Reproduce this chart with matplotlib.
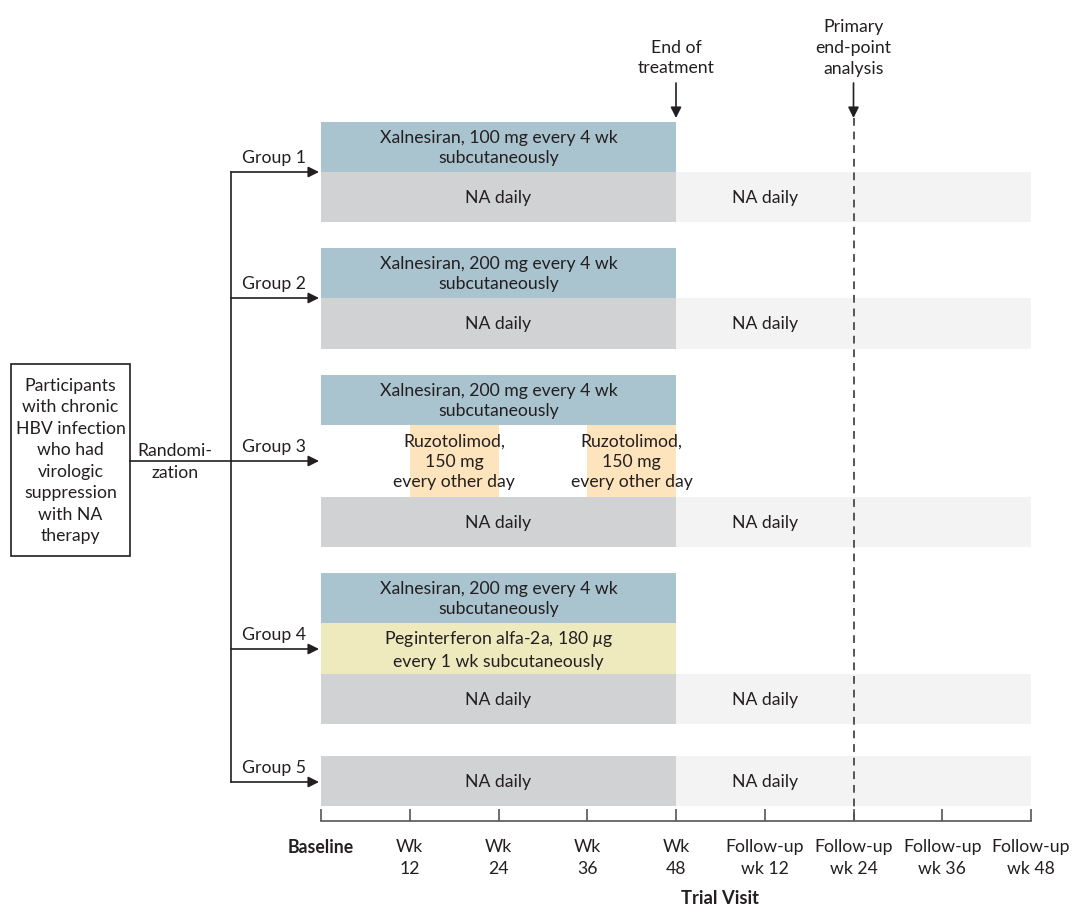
import matplotlib
matplotlib.use("Agg")
import matplotlib.pyplot as plt
from matplotlib.patches import Rectangle

# ---------------- data ----------------
visit_labels = ["Baseline", "Wk\n12", "Wk\n24", "Wk\n36", "Wk\n48",
                "Follow-up\nwk 12", "Follow-up\nwk 24", "Follow-up\nwk 36", "Follow-up\nwk 48"]
group_names = ["Group 1", "Group 2", "Group 3", "Group 4", "Group 5"]
xal_text = ["Xalnesiran, 100 mg every 4 wk\nsubcutaneously",
            "Xalnesiran, 200 mg every 4 wk\nsubcutaneously",
            "Xalnesiran, 200 mg every 4 wk\nsubcutaneously",
            "Xalnesiran, 200 mg every 4 wk\nsubcutaneously",
            None]
treat_start = 0      # Baseline (visit index)
treat_end = 4        # Wk 48
followup_end = 8     # Follow-up wk 48
followup_label_at = 5  # Follow-up wk 12
endpoint_visit = 6   # Follow-up wk 24
ruzo_periods = [(1, 2), (3, 4)]
ruzo_text = "Ruzotolimod,\n150 mg\nevery other day"
peg_text = "Peginterferon alfa-2a, 180 $\\mu$g\nevery 1 wk subcutaneously"
na_text = "NA daily"
participants_text = ("Participants\nwith chronic\nHBV infection\nwho had\nvirologic\n"
                     "suppression\nwith NA\ntherapy")

# ---------------- style ----------------
plt.rcParams['font.family'] = ['Lato', 'DejaVu Sans']
plt.rcParams['mathtext.fontset'] = 'custom'
plt.rcParams['mathtext.it'] = 'Lato:italic'
TXT = "#231f20"
BLUE = "#a9c3cf"
GRAY = "#d1d2d4"
LIGHT = "#f3f3f3"
ORANGE = "#fde4bc"
YELLOW = "#efe9be"
FS = 12.7

W, H = 1080, 920
fig = plt.figure(figsize=(W / 100, H / 100), dpi=100)
x0_px, x8_px = 321, 1031
axis_px = 822
ax = fig.add_axes([x0_px / W, (H - axis_px) / H, (x8_px - x0_px) / W, axis_px / H])
ax.set_xlim(0, 8)
ax.set_ylim(axis_px, 0)
ppu = (x8_px - x0_px) / 8.0   # pixels per visit unit


def px(xp):
    """convert pixel x to data x"""
    return (xp - x0_px) / ppu


for s in ["top", "right", "left"]:
    ax.spines[s].set_visible(False)
ax.spines["bottom"].set_color("#555555")
ax.spines["bottom"].set_linewidth(1.2)
ax.set_yticks([])
ax.set_xticks(range(len(visit_labels)))
ax.set_xticklabels(visit_labels, fontsize=FS, color=TXT, linespacing=1.45)
ax.tick_params(axis="x", direction="in", length=9, width=1.2, color="#555555", pad=12)
ax.get_xticklabels()[0].set_fontweight("bold")
ax.set_xlabel("Trial Visit", fontsize=FS + 0.5, fontweight="bold", color=TXT, va="center")
ax.xaxis.set_label_coords(px(720) / 8, -(899 - axis_px) / axis_px)

# row layout (pixel y: top, height)
rows = {
    0: dict(blue=(123, 50), na=(173, 50), arrow=173),
    1: dict(blue=(249, 50), na=(299, 51), arrow=299),
    2: dict(blue=(376, 50), ruzo=(426, 72), na=(498, 50), arrow=462),
    3: dict(blue=(574, 50), peg=(624, 51), na=(675, 50), arrow=650),
    4: dict(na=(757, 50), arrow=783),
}


def box(x0, x1, y, h, color):
    ax.add_patch(Rectangle((x0, y), x1 - x0, h, facecolor=color, edgecolor="none", zorder=1))


def label(x, y, s, ls=1.38, **kw):
    ax.text(x, y, s, ha="center", va="center", fontsize=FS, color=TXT,
            linespacing=ls, clip_on=False, **kw)


for i, g in enumerate(group_names):
    r = rows[i]
    if "blue" in r and xal_text[i]:
        y, h = r["blue"]
        box(treat_start, treat_end, y, h, BLUE)
        label((treat_start + treat_end) / 2, y + h / 2, xal_text[i])
    if "ruzo" in r:
        y, h = r["ruzo"]
        for a, b in ruzo_periods:
            box(a, b, y, h, ORANGE)
            label((a + b) / 2, y + h / 2, ruzo_text, ls=1.32, zorder=3)
    if "peg" in r:
        y, h = r["peg"]
        box(treat_start, treat_end, y, h, YELLOW)
        label((treat_start + treat_end) / 2, y + h / 2, peg_text)
    y, h = r["na"]
    box(treat_start, treat_end, y, h, GRAY)
    box(treat_end, followup_end, y, h, LIGHT)
    label((treat_start + treat_end) / 2, y + h / 2, na_text)
    label(followup_label_at, y + h / 2, na_text)
    # arrow + group label
    ya = r["arrow"]
    ax.annotate("", xy=(px(319), ya), xytext=(px(231), ya),
                arrowprops=dict(arrowstyle="-|>", color=TXT, lw=1.2,
                                mutation_scale=16, shrinkA=0, shrinkB=0),
                annotation_clip=False)
    label(px(274), ya - 15, g)

# trunk line
ax.plot([px(231), px(231)], [rows[0]["arrow"], rows[4]["arrow"]], color=TXT, lw=1.2, clip_on=False)
ax.plot([px(130), px(231)], [462, 462], color=TXT, lw=1.2, clip_on=False)
label(px(175), 462, "Randomi-\nzation", ls=1.5)

# participants box
ax.add_patch(Rectangle((px(11), 365), px(130) - px(11), 192, facecolor="white",
                       edgecolor=TXT, lw=1.2, clip_on=False))
label(px(70.5), 461, participants_text, ls=1.42)

# end of treatment
label(treat_end, 58, "End of\ntreatment")
ax.annotate("", xy=(treat_end, 119), xytext=(treat_end, 84),
            arrowprops=dict(arrowstyle="-|>", color=TXT, lw=1.2, mutation_scale=16,
                            shrinkA=0, shrinkB=0), annotation_clip=False)
# primary endpoint
label(endpoint_visit, 48, "Primary\nend-point\nanalysis")
ax.annotate("", xy=(endpoint_visit, 119), xytext=(endpoint_visit, 84),
            arrowprops=dict(arrowstyle="-|>", color=TXT, lw=1.2, mutation_scale=16,
                            shrinkA=0, shrinkB=0), annotation_clip=False)
ax.plot([endpoint_visit, endpoint_visit], [119, axis_px], color="#555555", lw=1.4,
        linestyle=(0, (4, 3)), zorder=2)

fig.savefig("out.png", dpi=100)
